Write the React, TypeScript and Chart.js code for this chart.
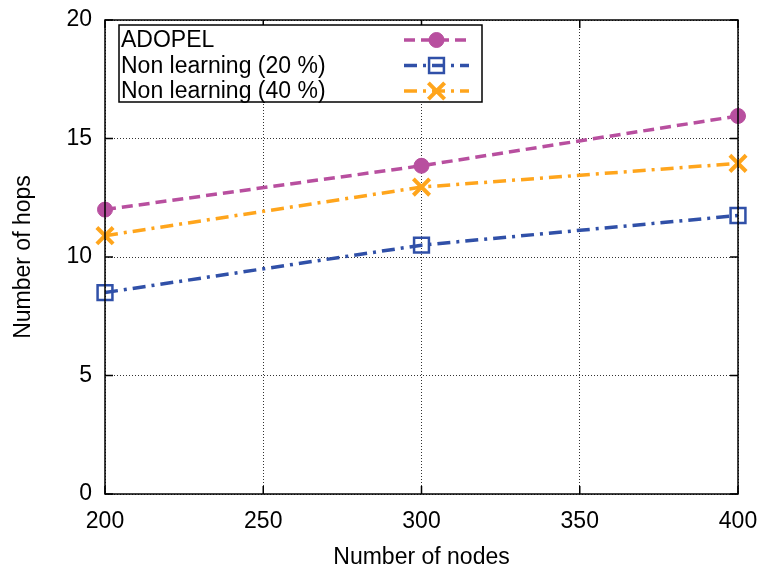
import React, { useEffect, useRef } from "react";
import { Chart, registerables } from "chart.js";
import { drawPoint } from "chart.js/helpers";

Chart.register(...registerables);

const nodeCounts = [200, 300, 400];
const adopelHops = [12, 13.85, 15.95];
const nonLearning20Hops = [8.5, 10.5, 11.75];
const nonLearning40Hops = [10.9, 12.95, 13.95];
const seriesLabels = ["ADOPEL", "Non learning (20 %)", "Non learning (40 %)"];
const xTicks = [200, 250, 300, 350, 400];
const yTicks = [0, 5, 10, 15, 20];

const FONT = '"Liberation Sans", Arial, Helvetica, sans-serif';
const FS = 23;
const PURPLE = "#b84f9f";
const BLUE = "#3050a8";
const ORANGE = "#ffa51c";

const toPoints = (ys: number[]) => nodeCounts.map((x, i) => ({ x, y: ys[i] }));

const framePlugin = {
  id: "frame",
  afterDatasetsDraw(chart: any) {
    const { ctx, chartArea: a, scales } = chart;
    ctx.save();
    ctx.strokeStyle = "#000";
    ctx.lineWidth = 1.5;
    ctx.setLineDash([]);
    const tl = 8;
    ctx.beginPath();
    xTicks.forEach((v) => {
      const px = scales.x.getPixelForValue(v);
      ctx.moveTo(px, a.bottom);
      ctx.lineTo(px, a.bottom - tl);
      ctx.moveTo(px, a.top);
      ctx.lineTo(px, a.top + tl);
    });
    yTicks.forEach((v) => {
      const py = scales.y.getPixelForValue(v);
      ctx.moveTo(a.left, py);
      ctx.lineTo(a.left + tl, py);
      ctx.moveTo(a.right, py);
      ctx.lineTo(a.right - tl, py);
    });
    ctx.stroke();
    ctx.strokeRect(a.left, a.top, a.right - a.left, a.bottom - a.top);
    ctx.restore();
  },
  afterDraw(chart: any) {
    const { ctx, chartArea: a } = chart;
    const bx = a.left + 14;
    const by = a.top + 5;
    const bw = 363;
    const bh = 77;
    ctx.save();
    ctx.fillStyle = "#fff";
    ctx.fillRect(bx, by, bw, bh);
    ctx.strokeStyle = "#000";
    ctx.lineWidth = 1.5;
    ctx.strokeRect(bx, by, bw, bh);
    ctx.font = `${FS}px ${FONT}`;
    ctx.textBaseline = "middle";
    ctx.textAlign = "left";
    chart.data.datasets.forEach((ds: any, i: number) => {
      const y = by + 15 + i * 25.5;
      ctx.fillStyle = "#000";
      ctx.fillText(ds.label, bx + 2, y + 1);
      const x0 = bx + 285;
      const x1 = bx + 350;
      ctx.strokeStyle = ds.borderColor;
      ctx.lineWidth = ds.borderWidth;
      ctx.setLineDash(ds.borderDash || []);
      ctx.beginPath();
      ctx.moveTo(x0, y);
      ctx.lineTo(x1, y);
      ctx.stroke();
      ctx.setLineDash([]);
      ctx.fillStyle = ds.pointBackgroundColor;
      ctx.strokeStyle = ds.pointBorderColor;
      ctx.lineWidth = ds.pointBorderWidth;
      drawPoint(ctx, { pointStyle: ds.pointStyle, radius: ds.pointRadius, rotation: 0, borderWidth: ds.pointBorderWidth }, (x0 + x1) / 2, y);
    });
    ctx.restore();
  },
};

export default function App() {
  const ref = useRef<HTMLCanvasElement>(null);
  useEffect(() => {
    if (!ref.current) return;
    const chart = new Chart(ref.current, {
      type: "line",
      data: {
        datasets: [
          {
            label: seriesLabels[0],
            data: toPoints(adopelHops),
            borderColor: PURPLE,
            borderWidth: 3.5,
            borderDash: [11, 6],
            pointStyle: "circle",
            pointRadius: 7.5,
            pointBackgroundColor: PURPLE,
            pointBorderColor: PURPLE,
            pointBorderWidth: 1,
            clip: false,
          },
          {
            label: seriesLabels[1],
            data: toPoints(nonLearning20Hops),
            borderColor: BLUE,
            borderWidth: 3.5,
            borderDash: [13, 6, 3, 6],
            pointStyle: "rect",
            pointRadius: 10.5,
            pointBackgroundColor: "rgba(255,255,255,0)",
            pointBorderColor: BLUE,
            pointBorderWidth: 2.5,
            clip: false,
          },
          {
            label: seriesLabels[2],
            data: toPoints(nonLearning40Hops),
            borderColor: ORANGE,
            borderWidth: 3.5,
            borderDash: [13, 6, 3, 6],
            pointStyle: "crossRot",
            pointRadius: 11.5,
            pointBackgroundColor: ORANGE,
            pointBorderColor: ORANGE,
            pointBorderWidth: 4,
            clip: false,
          },
        ] as any,
      },
      options: {
        animation: false,
        responsive: false,
        layout: { padding: { left: 0, right: 25, top: 20, bottom: 0 } },
        plugins: { legend: { display: false }, tooltip: { enabled: false } },
        scales: {
          x: {
            type: "linear",
            min: 200,
            max: 400,
            afterFit: (s: any) => {
              s.height = 77;
              s.paddingLeft = 0;
              s.paddingRight = 0;
            },
            afterBuildTicks: (s: any) => { s.ticks = xTicks.map((v) => ({ value: v })); },
            ticks: { color: "#000", font: { family: FONT, size: FS }, padding: 14, maxRotation: 0 },
            grid: { color: "#333", drawTicks: false, lineWidth: 1 },
            border: { display: false, dash: [1, 2] },
            title: { display: true, text: "Number of nodes", color: "#000", font: { family: FONT, size: FS }, padding: 0 },
          } as any,
          y: {
            type: "linear",
            min: 0,
            max: 20,
            afterFit: (s: any) => {
              s.width = 105;
              s.paddingTop = 0;
              s.paddingBottom = 0;
            },
            afterBuildTicks: (s: any) => { s.ticks = yTicks.map((v) => ({ value: v })); },
            ticks: { color: "#000", font: { family: FONT, size: FS }, padding: 13 },
            grid: { color: "#333", drawTicks: false, lineWidth: 1 },
            border: { display: false, dash: [1, 2] },
            title: { display: true, text: "Number of hops", color: "#000", font: { family: FONT, size: FS }, padding: 10 },
          } as any,
        },
      },
      plugins: [framePlugin],
    });
    return () => chart.destroy();
  }, []);
  return (
    <div style={{ position: "fixed", left: 0, top: 0, width: 763, height: 571, background: "#fff" }}>
      <canvas ref={ref} width={763} height={571} style={{ width: 763, height: 571 }} />
    </div>
  );
}
